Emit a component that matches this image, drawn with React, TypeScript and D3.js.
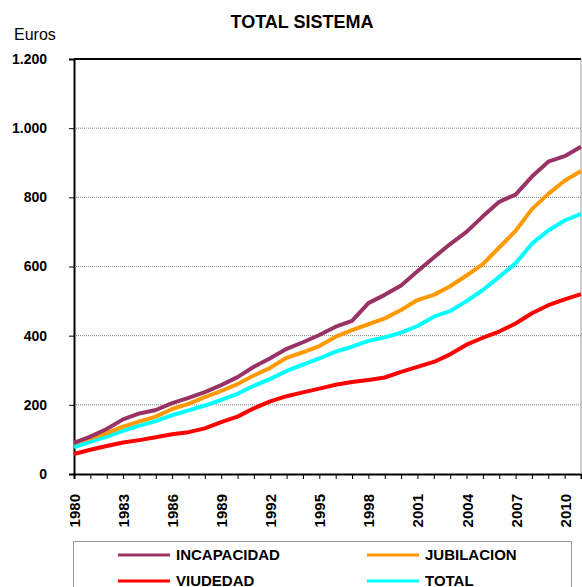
import React, { useEffect, useRef, RefObject } from "react";
import * as d3 from "d3";

const years = d3.range(1980, 2012);
const tickYears = [1980, 1983, 1986, 1989, 1992, 1995, 1998, 2001, 2004, 2007, 2010];
const yTicks = [0, 200, 400, 600, 800, 1000, 1200];

const incapacidad = [
  90, 108, 130, 158, 175, 185, 205, 220, 237, 257, 280, 310, 335, 362, 381, 402,
  426, 443, 494, 518, 545, 586, 626, 665, 700, 745, 787, 808, 860, 903, 919, 946,
];
const jubilacion = [
  90, 104, 118, 137, 152, 166, 188, 203, 222, 240, 260, 285, 307, 336, 352, 370,
  397, 416, 433, 450, 474, 503, 518, 543, 574, 607, 655, 703, 766, 810, 848, 876,
];
const viudedad = [
  58, 70, 81, 91, 98, 106, 115, 121, 132, 150, 166, 190, 210, 225, 236, 247,
  258, 266, 272, 279, 295, 310, 324, 346, 374, 394, 412, 435, 465, 488, 505, 520,
];
const total = [
  78, 93, 108, 125, 140, 153, 170, 184, 198, 214, 232, 255, 275, 298, 316, 334,
  354, 368, 385, 395, 409, 428, 455, 471, 500, 532, 570, 609, 666, 704, 733, 752,
];

const series = [
  { name: "INCAPACIDAD", color: "#993366", values: incapacidad },
  { name: "JUBILACION", color: "#FF9900", values: jubilacion },
  { name: "VIUDEDAD", color: "#FF0000", values: viudedad },
  { name: "TOTAL", color: "#00FFFF", values: total },
];

const W = 582,
  H = 587;

export default function App(): React.ReactElement {
  const svgRef: RefObject<SVGSVGElement> = useRef(null);

  useEffect(() => {
    const svg = d3.select(svgRef.current);
    svg.selectChildren().remove();

    const font = "'Liberation Sans', Arial, sans-serif";
    const left = 74,
      right = 581,
      top = 59,
      bottom = 474;

    const x = d3.scaleLinear().domain([1980, 2011]).range([left, right]);
    const y = d3.scaleLinear().domain([0, 1200]).range([bottom, top]);

    svg.append("rect").attr("width", W).attr("height", H).attr("fill", "#fff");

    // title + unit
    svg
      .append("text")
      .attr("x", 302)
      .attr("y", 28)
      .attr("text-anchor", "middle")
      .attr("font-family", font)
      .attr("font-weight", "bold")
      .attr("font-size", 18)
      .text("TOTAL SISTEMA");

    svg
      .append("text")
      .attr("x", 14)
      .attr("y", 40)
      .attr("font-family", font)
      .attr("font-size", 16)
      .text("Euros");

    // gridlines
    svg
      .append("g")
      .selectAll("line")
      .data(yTicks.filter((d) => d > 0 && d < 1200))
      .enter()
      .append("line")
      .attr("x1", left)
      .attr("x2", right)
      .attr("y1", (d) => y(d))
      .attr("y2", (d) => y(d))
      .attr("stroke", "#808080")
      .attr("stroke-width", 1)
      .attr("stroke-dasharray", "1,1");

    // y axis
    const yAxis = svg
      .append("g")
      .attr("transform", `translate(${left},0)`)
      .call(
        d3
          .axisLeft(y)
          .tickValues(yTicks)
          .tickSize(5)
          .tickPadding(22)
          .tickFormat((d) => d3.format(",")(d as number).replace(",", "."))
      );
    yAxis.select(".domain").attr("stroke", "#000").attr("stroke-width", 2);
    yAxis.selectAll(".tick line").attr("stroke", "#000");
    yAxis
      .selectAll("text")
      .attr("font-family", font)
      .attr("font-weight", "bold")
      .attr("font-size", 14)
      .attr("fill", "#000");

    // x axis
    const xAxis = svg
      .append("g")
      .attr("transform", `translate(0,${bottom})`)
      .call(d3.axisBottom(x).tickValues(years).tickSize(5).tickFormat(() => ""));
    xAxis.select(".domain").attr("stroke", "#000").attr("stroke-width", 2);
    xAxis.selectAll(".tick line").attr("stroke", "#000");

    svg
      .append("g")
      .selectAll("text")
      .data(tickYears)
      .enter()
      .append("text")
      .attr("transform", (d) => `translate(${x(d) + 6},494) rotate(-90)`)
      .attr("text-anchor", "end")
      .attr("font-family", font)
      .attr("font-weight", "bold")
      .attr("font-size", 15)
      .text((d) => d);

    // top and right border
    svg
      .append("line")
      .attr("x1", left)
      .attr("x2", right)
      .attr("y1", top)
      .attr("y2", top)
      .attr("stroke", "#000")
      .attr("stroke-width", 2);
    svg
      .append("line")
      .attr("x1", right)
      .attr("x2", right)
      .attr("y1", top)
      .attr("y2", bottom)
      .attr("stroke", "#999")
      .attr("stroke-width", 1);

    // lines
    const line = d3
      .line<number>()
      .x((_, i) => x(years[i]))
      .y((d) => y(d));

    svg
      .append("g")
      .selectAll("path")
      .data([series[2], series[3], series[1], series[0]])
      .enter()
      .append("path")
      .attr("d", (d) => line(d.values))
      .attr("fill", "none")
      .attr("stroke", (d) => d.color)
      .attr("stroke-width", 4)
      .attr("stroke-linejoin", "round");

    // legend
    const legend = svg.append("g");
    legend
      .append("rect")
      .attr("x", 73.5)
      .attr("y", 541.5)
      .attr("width", 498)
      .attr("height", 60)
      .attr("fill", "#fff")
      .attr("stroke", "#999");

    const items = legend
      .selectAll("g")
      .data(series)
      .enter()
      .append("g")
      .attr(
        "transform",
        (_, i) => `translate(${i % 2 === 0 ? 118 : 367},${i < 2 ? 555 : 581})`
      );
    items
      .append("line")
      .attr("x1", 0)
      .attr("x2", 52)
      .attr("stroke", (d) => d.color)
      .attr("stroke-width", 3);
    items
      .append("text")
      .attr("x", 58)
      .attr("dy", "0.36em")
      .attr("font-family", font)
      .attr("font-weight", "bold")
      .attr("font-size", 15)
      .text((d) => d.name);
  }, []);

  return (
    <svg
      ref={svgRef}
      width={W}
      height={H}
      style={{ position: "absolute", left: 0, top: 0 }}
    />
  );
}
